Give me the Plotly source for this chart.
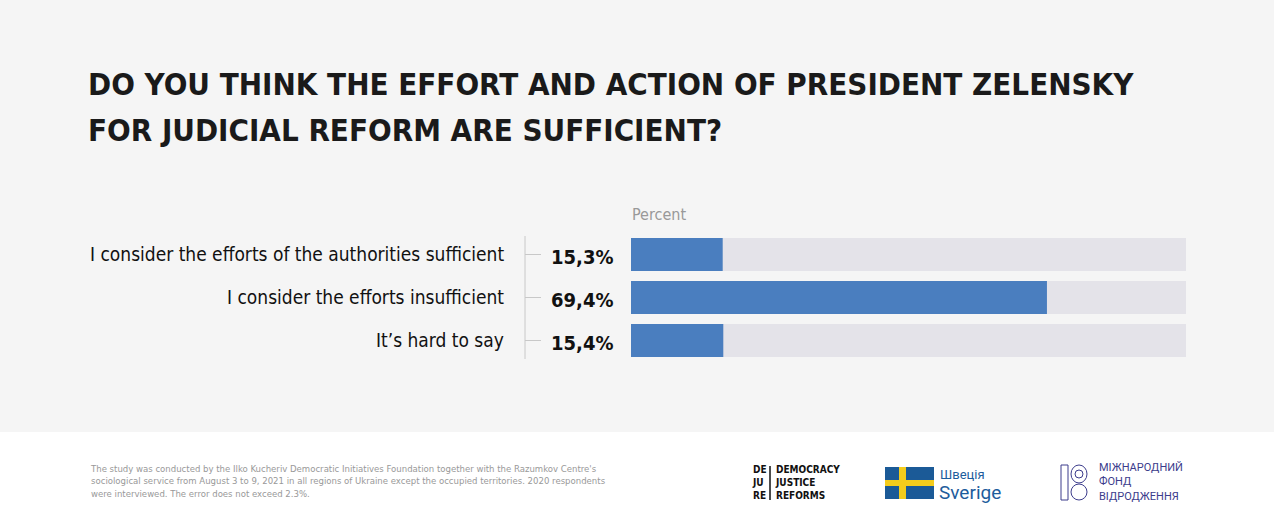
import plotly.graph_objects as go

categories = ["I consider the efforts of the authorities sufficient",
              "I consider the efforts insufficient",
              "It’s hard to say"]
values = [15.3, 69.4, 15.4]
value_labels = ["15,3%", "69,4%", "15,4%"]
track_max = 92.6

W, H = 1274, 531
FONT = "DejaVu Sans Condensed"
def px(x): return x / W
def py(y): return 1 - y / H

fig = go.Figure()
fig.add_trace(go.Bar(y=list(range(3)), x=[track_max] * 3, orientation="h",
                     marker=dict(color="#e4e3e9", line_width=0), width=0.767,
                     hoverinfo="skip", showlegend=False))
fig.add_trace(go.Bar(y=list(range(3)), x=values, orientation="h",
                     marker=dict(color="#4a7ebf", line_width=0), width=0.767,
                     text=value_labels, hoverinfo="text", showlegend=False,
                     textposition="none"))

shapes = [
    dict(type="rect", xref="paper", yref="paper", x0=0, x1=1, y0=py(432), y1=1,
         fillcolor="#f5f5f5", line_width=0, layer="below"),
    dict(type="line", xref="paper", yref="paper", x0=px(525), x1=px(525),
         y0=py(236), y1=py(359), line=dict(color="#c8c8c8", width=1)),
]
ann = []
for i, (c, v) in enumerate(zip(categories, value_labels)):
    yc = 254.5 + 43 * i
    shapes.append(dict(type="line", xref="paper", yref="paper", x0=px(525), x1=px(541),
                       y0=py(yc), y1=py(yc), line=dict(color="#c8c8c8", width=1)))
    ann.append(dict(x=px(506), y=py(yc - 1), xref="paper", yref="paper", text=c,
                    showarrow=False, xanchor="right", yanchor="middle",
                    font=dict(family=FONT, size=19, color="#111")))
    ann.append(dict(x=px(615), y=py(yc + 2), xref="paper", yref="paper", text="<b>%s</b>" % v,
                    showarrow=False, xanchor="right", yanchor="middle",
                    font=dict(family=FONT, size=20, color="#111")))

ann += [
    dict(x=px(86), y=py(84), xref="paper", yref="paper", showarrow=False, xanchor="left",
         yanchor="middle", align="left",
         text="<b>DO YOU THINK THE EFFORT AND ACTION OF PRESIDENT ZELENSKY</b>",
         font=dict(family=FONT, size=31, color="#1a1a1a")),
    dict(x=px(86), y=py(130), xref="paper", yref="paper", showarrow=False, xanchor="left",
         yanchor="middle", align="left",
         text="<b>FOR JUDICIAL REFORM ARE SUFFICIENT?</b>",
         font=dict(family=FONT, size=31, color="#1a1a1a")),
    dict(x=px(630), y=py(214), xref="paper", yref="paper", showarrow=False, xanchor="left",
         yanchor="middle", text="Percent",
         font=dict(family=FONT, size=16, color="#999")),
    dict(x=px(88), y=py(481), xref="paper", yref="paper", showarrow=False, xanchor="left",
         yanchor="middle", align="left",
         text="The study was conducted by the Ilko Kucheriv Democratic Initiatives Foundation together with the Razumkov Centre's<br>"
              "sociological service from August 3 to 9, 2021 in all regions of Ukraine except the occupied territories. 2020 respondents<br>"
              "were interviewed. The error does not exceed 2.3%.",
         font=dict(family=FONT, size=9.5, color="#999")),
    dict(x=px(750), y=py(482), xref="paper", yref="paper", showarrow=False, xanchor="left",
         yanchor="middle", align="left", text="<b>DE<br>JU<br>RE</b>",
         font=dict(family=FONT, size=10, color="#111")),
    dict(x=px(773), y=py(482), xref="paper", yref="paper", showarrow=False, xanchor="left",
         yanchor="middle", align="left", text="<b>DEMOCRACY<br>JUSTICE<br>REFORMS</b>",
         font=dict(family=FONT, size=10, color="#111")),
    dict(x=px(938), y=py(474), xref="paper", yref="paper", showarrow=False, xanchor="left",
         yanchor="middle", text="Швеція",
         font=dict(family="Roboto", size=13, color="#1d5c9c")),
    dict(x=px(937), y=py(492), xref="paper", yref="paper", showarrow=False, xanchor="left",
         yanchor="middle", text="Sverige",
         font=dict(family="Roboto", size=19, color="#1d5c9c")),
    dict(x=px(1097), y=py(482), xref="paper", yref="paper", showarrow=False, xanchor="left",
         yanchor="middle", align="left", text="МІЖНАРОДНИЙ<br>ФОНД<br>ВІДРОДЖЕННЯ",
         font=dict(family="Roboto", size=11, color="#3c3c8c")),
]
shapes += [
    dict(type="line", xref="paper", yref="paper", x0=px(770), x1=px(770), y0=py(466), y1=py(500),
         line=dict(color="#111", width=1.5)),
    dict(type="rect", xref="paper", yref="paper", x0=px(885), x1=px(934), y0=py(499), y1=py(467),
         fillcolor="#1b5a97", line_width=0),
    dict(type="rect", xref="paper", yref="paper", x0=px(899), x1=px(906), y0=py(499), y1=py(467),
         fillcolor="#f4cc1c", line_width=0),
    dict(type="rect", xref="paper", yref="paper", x0=px(885), x1=px(934), y0=py(486), y1=py(480),
         fillcolor="#f4cc1c", line_width=0),
    dict(type="rect", xref="paper", yref="paper", x0=px(1061), x1=px(1068), y0=py(500), y1=py(465),
         line=dict(color="#3c3c8c", width=1)),
    dict(type="circle", xref="paper", yref="paper", x0=px(1071), x1=px(1087), y0=py(483), y1=py(465),
         line=dict(color="#3c3c8c", width=1)),
    dict(type="circle", xref="paper", yref="paper", x0=px(1075), x1=px(1083), y0=py(478), y1=py(470),
         line=dict(color="#3c3c8c", width=1)),
    dict(type="circle", xref="paper", yref="paper", x0=px(1071), x1=px(1087), y0=py(500), y1=py(484),
         line=dict(color="#3c3c8c", width=1)),
]

fig.update_layout(
    width=W, height=H, margin=dict(l=0, r=0, t=0, b=0),
    paper_bgcolor="white", plot_bgcolor="rgba(0,0,0,0)",
    barmode="overlay", shapes=shapes, annotations=ann,
    xaxis=dict(domain=[px(631), px(1186)], range=[0, track_max], visible=False, fixedrange=True),
    yaxis=dict(domain=[py(362), py(233)], range=[2.5, -0.5], visible=False, fixedrange=True),
)
fig.write_html("out.html", config={"displayModeBar": False},
               post_script="document.body.style.margin='0';")
